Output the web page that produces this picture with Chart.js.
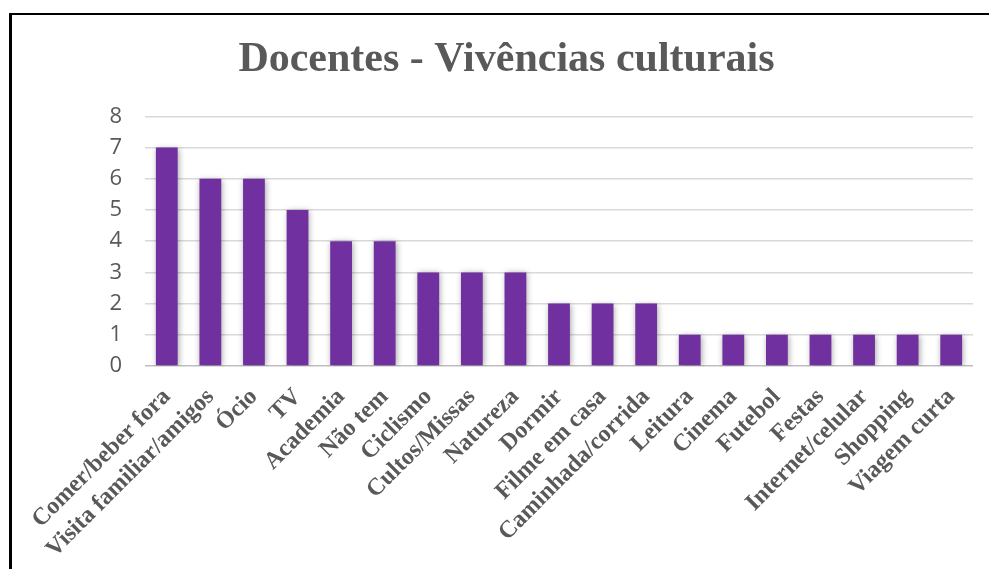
<!DOCTYPE html>
<html>
<head>
<meta charset="utf-8">
<script src="https://cdn.jsdelivr.net/npm/chart.js@4.4.1/dist/chart.umd.min.js"></script>
<style>
  html, body { margin: 0; padding: 0; background: #fff; }
  #wrap { position: relative; width: 989px; height: 569px; overflow: hidden; }
  #frame { position: absolute; left: 9px; top: 13px; width: 1200px; height: 800px;
           border-left: 3px solid #000; border-top: 2px solid #000; pointer-events: none; }
  canvas { position: absolute; left: 0; top: 0; }
</style>
</head>
<body>
<div id="wrap">
  <canvas id="c" width="989" height="569"></canvas>
  <div id="frame"></div>
</div>
<script>
const titleText = "Docentes - Vivências culturais";
const categories = ["Comer/beber fora", "Visita familiar/amigos", "Ócio", "TV", "Academia", "Não tem",
  "Ciclismo", "Cultos/Missas", "Natureza", "Dormir", "Filme em casa", "Caminhada/corrida",
  "Leitura", "Cinema", "Futebol", "Festas", "Internet/celular", "Shopping", "Viagem curta"];
const values = [7, 6, 6, 5, 4, 4, 3, 3, 3, 2, 2, 2, 1, 1, 1, 1, 1, 1, 1];
const yTicks = [0, 1, 2, 3, 4, 5, 6, 7, 8];

const shadowPlugin = {
  id: 'barShadow',
  beforeDatasetsDraw(chart) {
    const ctx = chart.ctx;
    ctx.save();
    ctx.shadowColor = 'rgba(0,0,0,0.35)';
    ctx.shadowBlur = 6;
    ctx.shadowOffsetX = 1;
    ctx.shadowOffsetY = 1;
  },
  afterDatasetsDraw(chart) { chart.ctx.restore(); }
};

new Chart(document.getElementById('c'), {
  type: 'bar',
  data: {
    labels: categories,
    datasets: [{
      data: values,
      backgroundColor: '#7030A0',
      borderWidth: 0,
      categoryPercentage: 1,
      barPercentage: 0.5
    }]
  },
  options: {
    responsive: false,
    animation: false,
    layout: { padding: { left: 40, right: 16, top: 0, bottom: 0 } },
    plugins: {
      legend: { display: false },
      tooltip: { enabled: false },
      title: {
        display: true,
        text: titleText,
        color: '#595959',
        font: { family: '"Liberation Serif", "Times New Roman", serif', size: 42, weight: 'bold', lineHeight: 1.2 },
        padding: { top: 35, bottom: 31 }
      }
    },
    scales: {
      x: {
        grid: { display: false, drawTicks: false },
        border: { display: false },
        ticks: {
          color: '#595959',
          font: { family: '"Liberation Serif", "Times New Roman", serif', size: 24, weight: 'bold' },
          minRotation: 45, maxRotation: 45,
          autoSkip: false,
          padding: 17
        },
        afterFit(s) { s.height = 203; }
      },
      y: {
        min: 0, max: 8,
        afterBuildTicks(s) { s.ticks = yTicks.map(v => ({ value: v })); },
        grid: {
          drawTicks: false,
          color: ctx => (ctx.tick && ctx.tick.value === 0) ? '#bfbfbf' : '#d9d9d9',
          lineWidth: 1.5
        },
        border: { display: false },
        ticks: {
          color: '#595959',
          font: { family: '"Open Sans", "Liberation Sans", sans-serif', size: 22 },
          padding: 23
        },
        afterFit(s) { s.width = 105; }
      }
    }
  },
  plugins: [shadowPlugin]
});
</script>
</body>
</html>
